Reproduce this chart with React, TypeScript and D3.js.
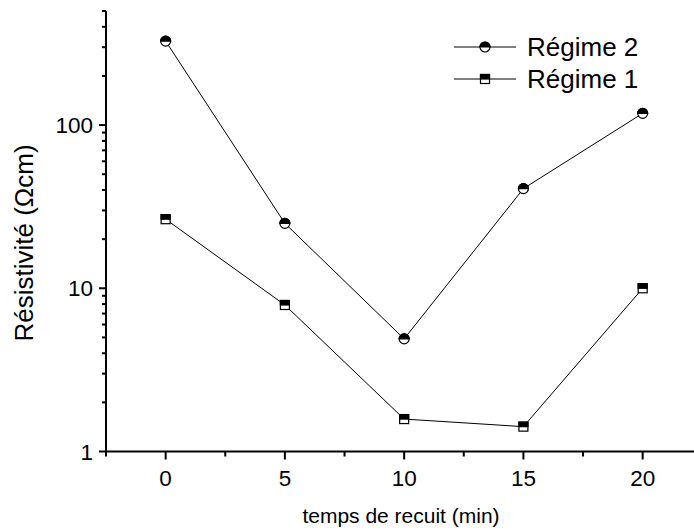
import React from "react";
import * as d3 from "d3";

const temps = [0, 5, 10, 15, 20];
const regime2 = [327, 25, 4.9, 40.8, 118];
const regime1 = [26.5, 7.9, 1.58, 1.42, 10.0];
const xTicks = [0, 5, 10, 15, 20];
const xMinorTicks = [-2.5, 2.5, 7.5, 12.5, 17.5, 22.5];
const yTicks = [1, 10, 100];
const yTickLabels = ["1", "10", "100"];
const legendLabels = ["Régime 2", "Régime 1"];

const W = 694;
const H = 530;
const FONT = "'Liberation Sans', Arial, Helvetica, sans-serif";

function HalfCircle({ cx, cy, r }: { cx: number; cy: number; r: number }) {
  const top = `M${cx - r},${cy} A${r},${r} 0 0 1 ${cx + r},${cy} Z`;
  return (
    <g>
      <circle cx={cx} cy={cy} r={r} fill="#fff" stroke="#000" strokeWidth={1.2} />
      <path d={top} fill="#000" stroke="#000" strokeWidth={1.2} />
    </g>
  );
}

function HalfSquare({ cx, cy, s }: { cx: number; cy: number; s: number }) {
  const h = s / 2;
  return (
    <g>
      <rect x={cx - h} y={cy - h} width={s} height={s} fill="#fff" stroke="#000" strokeWidth={1.2} />
      <rect x={cx - h} y={cy - h} width={s} height={h} fill="#000" stroke="#000" strokeWidth={1.2} />
    </g>
  );
}

export default function App() {
  const x = d3.scaleLinear().domain([-2.5, 22.5]).range([106, 702.3]);
  const y = d3.scaleLog().domain([1, 500]).range([451.5, 11]);
  const [x0, x1] = x.range();
  const [yb, yt] = y.range();

  const yMinor: number[] = [];
  for (const dec of [1, 10, 100]) {
    for (let k = 2; k <= 9; k++) {
      const v = dec * k;
      if (v <= 500) yMinor.push(v);
    }
  }

  const line = d3
    .line<number>()
    .x((_, i) => x(temps[i]))
    .y((d) => y(d));

  const legendRows = [
    { label: legendLabels[0], cy: 47, kind: "circle" },
    { label: legendLabels[1], cy: 79, kind: "square" },
  ];

  return (
    <svg
      width={W}
      height={H}
      style={{ position: "absolute", left: 0, top: 0, background: "#fff" }}
      fontFamily={FONT}
    >
      <rect x={0} y={0} width={W} height={H} fill="#fff" />
      {/* data lines */}
      <path d={line(regime2) || ""} fill="none" stroke="#000" strokeWidth={1} />
      <path d={line(regime1) || ""} fill="none" stroke="#000" strokeWidth={1} />
      {regime2.map((v, i) => (
        <HalfCircle key={"c" + i} cx={x(temps[i])} cy={y(v)} r={5} />
      ))}
      {regime1.map((v, i) => (
        <HalfSquare key={"s" + i} cx={x(temps[i])} cy={y(v)} s={9} />
      ))}

      {/* axes */}
      <line x1={x0} x2={x1} y1={yb} y2={yb} stroke="#000" strokeWidth={2} />
      <line x1={x0} x2={x0} y1={yb + 1} y2={yt} stroke="#000" strokeWidth={2} />
      {xTicks.map((t) => (
        <g key={"xt" + t}>
          <line x1={x(t)} x2={x(t)} y1={yb} y2={yb + 8} stroke="#000" strokeWidth={2} />
          <text x={x(t)} y={486} fontSize={22.5} textAnchor="middle" fill="#000">
            {t}
          </text>
        </g>
      ))}
      {xMinorTicks.map((t) => (
        <line key={"xm" + t} x1={x(t)} x2={x(t)} y1={yb} y2={yb + 5} stroke="#000" strokeWidth={2} />
      ))}
      {yTicks.map((t, i) => (
        <g key={"yt" + t}>
          <line x1={x0} x2={x0 - 7} y1={y(t)} y2={y(t)} stroke="#000" strokeWidth={2} />
          <text x={93} y={y(t) + 8} fontSize={22.5} textAnchor="end" fill="#000">
            {yTickLabels[i]}
          </text>
        </g>
      ))}
      {yMinor.map((t) => (
        <line key={"ym" + t} x1={x0} x2={x0 - 4} y1={y(t)} y2={y(t)} stroke="#000" strokeWidth={2} />
      ))}

      {/* axis titles */}
      <text x={401} y={523} fontSize={21} textAnchor="middle" fill="#000">
        temps de recuit (min)
      </text>
      <text
        transform={`translate(33,243) rotate(-90)`}
        fontSize={26}
        textAnchor="middle"
        fill="#000"
      >
        Résistivité (Ωcm)
      </text>

      {/* legend */}
      {legendRows.map((r) => (
        <g key={r.label}>
          <line x1={454} x2={516} y1={r.cy} y2={r.cy} stroke="#000" strokeWidth={1} />
          {r.kind === "circle" ? (
            <HalfCircle cx={485} cy={r.cy} r={5} />
          ) : (
            <HalfSquare cx={485} cy={r.cy} s={9} />
          )}
          <text x={527} y={r.cy + 9} fontSize={26} fill="#000">
            {r.label}
          </text>
        </g>
      ))}
    </svg>
  );
}
